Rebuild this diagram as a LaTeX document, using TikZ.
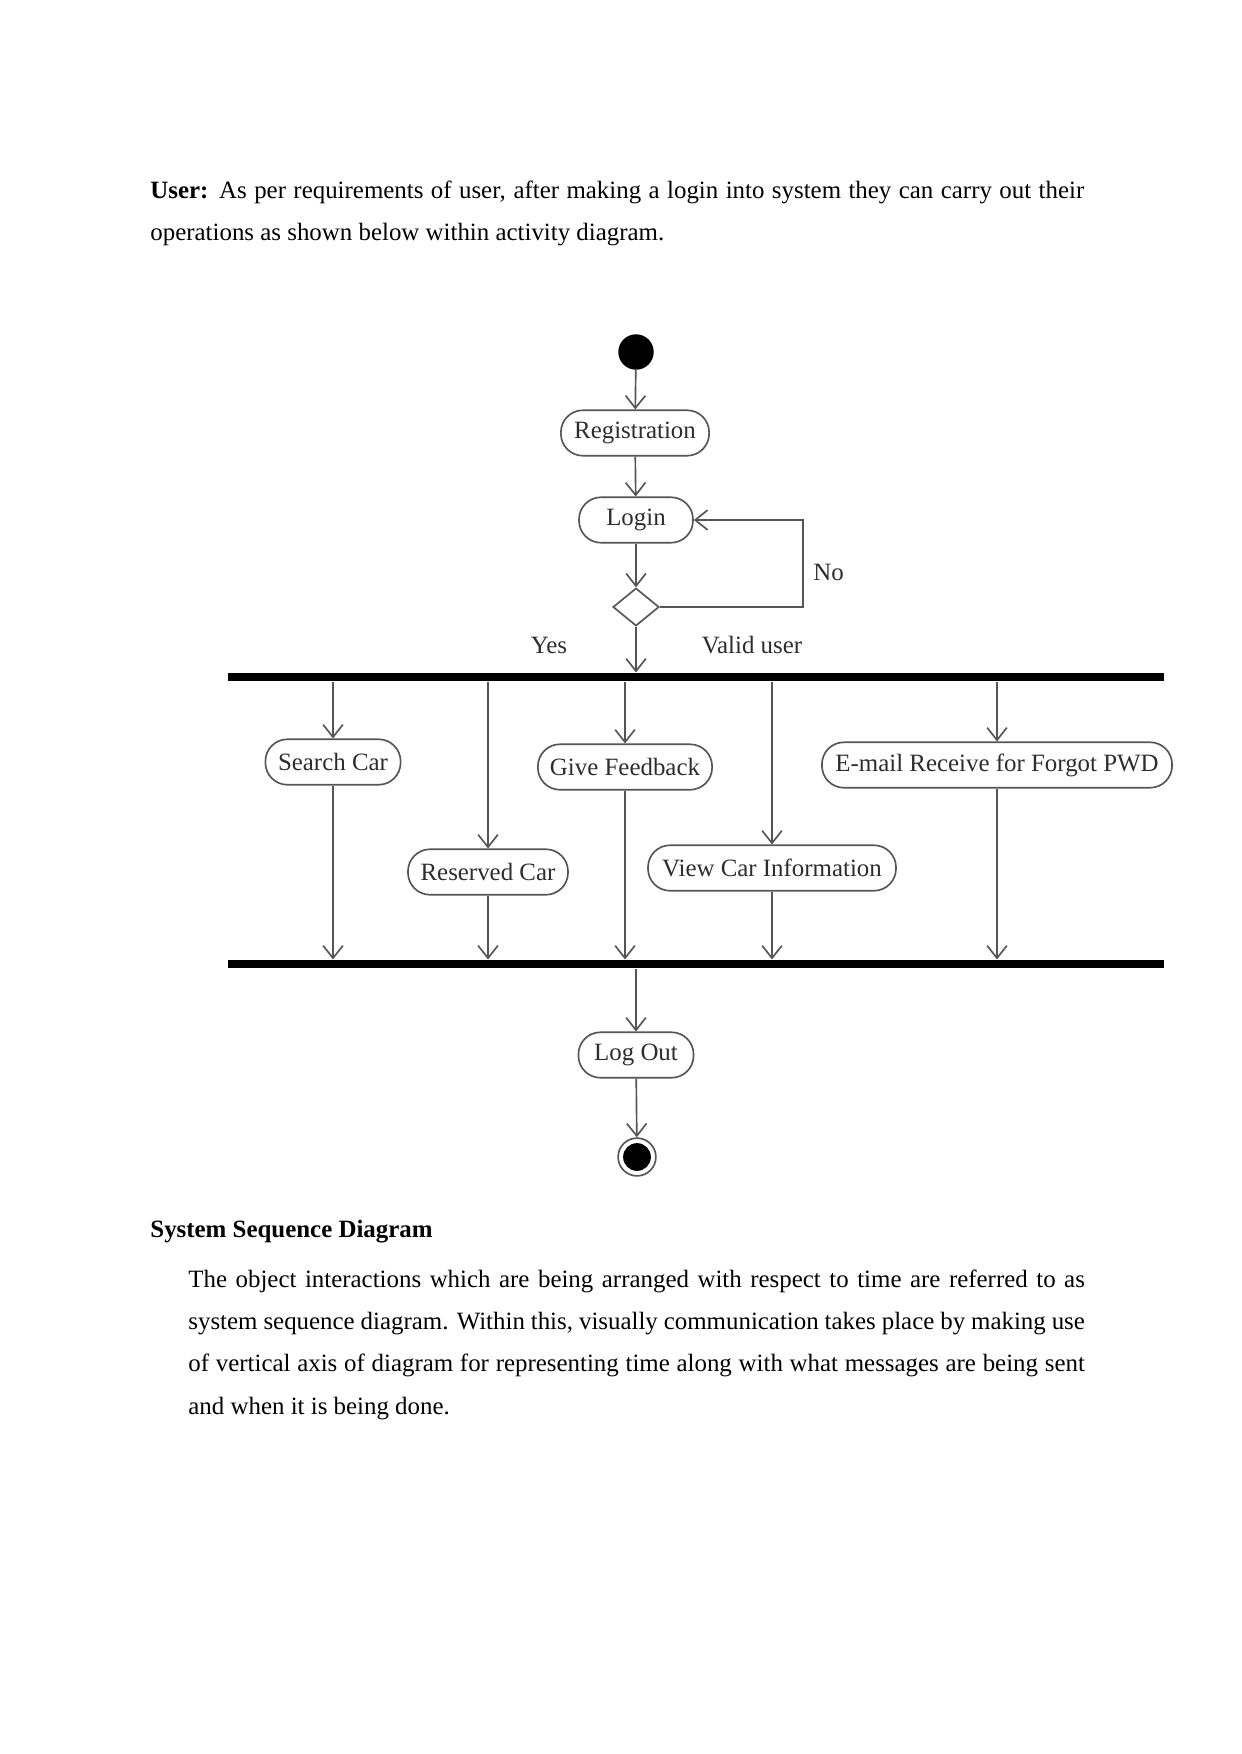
\documentclass[tikz,border=0pt]{standalone}
\usepackage{fontspec}
\setmainfont{Liberation Serif}
\usetikzlibrary{arrows.meta,shapes.geometric,positioning}
\definecolor{umlgray}{RGB}{85,85,85}
\definecolor{umltext}{RGB}{45,45,45}
\tikzset{
  act/.style={draw=umlgray, line width=0.8pt, rounded corners=10.6pt, minimum height=0.77cm,
    inner sep=0pt, text=umltext, font=\fontsize{12pt}{13pt}\selectfont},
  flow/.style={draw=umlgray, line width=0.8pt, -{Straight Barb[length=6pt,width=9.5pt]}},
  syncbar/.style={fill=black, inner sep=0pt, minimum width=15.85cm, minimum height=0.14cm},
  lbl/.style={text=umltext, font=\fontsize{12pt}{13pt}\selectfont, inner sep=0pt},
  bodytext/.style={inner sep=0pt, align=justify, font=\fontsize{12pt}{20.4pt}\selectfont}
}
\begin{document}
\begin{tikzpicture}[x=0.0169333cm, y=-0.0169333cm]
\useasboundingbox (0,0) rectangle (1241,1754);

\node[bodytext, anchor=base west, text width=450pt] (intro) at (150,198)
  {\textbf{User:} As per requirements of user, after making a login into system they can carry out their\linebreak
   operations as shown below within activity diagram.};

% activity diagram
\node[circle, fill=black, inner sep=0pt, minimum size=0.6cm] (start) at (636,352) {};
\node[act, minimum width=2.51cm] (reg) at (635,433) {Registration};
\node[act, minimum width=1.93cm] (login) at (636,520) {Login};
\node[diamond, draw=umlgray, line width=0.8pt, inner sep=0pt, minimum width=0.78cm, minimum height=0.64cm] (dec) at (636,607) {};
\node[syncbar] (fork) at (696,677) {};

\node[act, minimum width=2.29cm] (srch) at (333,762) {Search Car};
\node[act, minimum width=2.71cm] (resv) at (488,872) {Reserved Car};
\node[act, minimum width=2.95cm] (feed) at (625,767) {Give Feedback};
\node[act, minimum width=4.2cm] (view) at (772,868) {View Car Information};
\node[act, minimum width=5.93cm] (mail) at (997,765) {E-mail Receive for Forgot PWD};

\node[syncbar] (join) at (696,964) {};
\node[act, minimum width=1.95cm] (logout) at (636,1055) {Log Out};
\node[circle, draw=umlgray, line width=0.8pt, inner sep=0pt, minimum size=0.64cm,
  path picture={\fill[black] (path picture bounding box.center) circle (0.235cm);}] (stop) at (637,1157) {};

\node[lbl, anchor=west] (no) at (813,572) {No};
\node[lbl] (yes) at (549,645) {Yes};
\node[lbl] (valid) at (752,645) {Valid user};

\coordinate (loop) at (803,607);

\draw[flow] (start) -- (reg);
\draw[flow] (reg) -- (login);
\draw[flow] (login) -- (dec);
\draw[flow] (dec.east) -- (loop) |- (login.east);
\draw[flow] (dec.south) -- (dec.south |- fork.north);

\foreach \n in {srch,resv,feed,view,mail}{
  \draw[flow] (fork.south -| \n.north) -- (\n.north);
  \draw[flow] (\n.south) -- (\n.south |- join.north);
}

\draw[flow] (join.south -| logout.north) -- (logout.north);
\draw[flow] (logout) -- (stop);

% closing text
\node[anchor=base west, inner sep=0pt, font=\fontsize{12pt}{14pt}\selectfont\bfseries] (ssdhead) at (150,1237)
  {System Sequence Diagram};
\node[bodytext, anchor=base west, text width=432pt] (ssdtext) at (188,1287)
  {The object interactions which are being arranged with respect to time are referred to as\linebreak
   system sequence diagram. Within this, visually communication takes place by making use\linebreak
   of vertical axis of diagram for representing time along with what messages are being sent\linebreak
   and when it is being done.};
\end{tikzpicture}
\end{document}
